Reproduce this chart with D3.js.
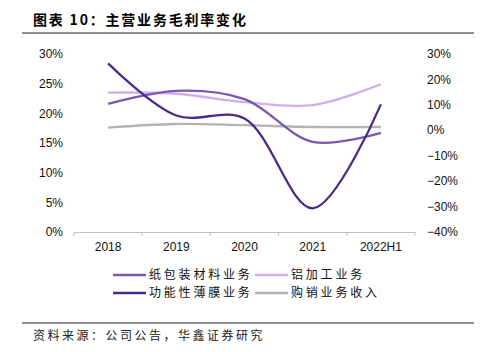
<!DOCTYPE html>
<html>
<head>
<meta charset="utf-8">
<style>
  body { margin: 0; background: #fff; }
  svg { display: block; }
  .zh { font-family: "Noto Sans CJK SC", sans-serif; }
  .num { font-family: "Liberation Sans", Arial, sans-serif; font-size: 12px; fill: #111; }
</style>
</head>
<body>
<script src="https://d3js.org/d3.v7.min.js"></script>
<script>
// categories and values (percent)
const years = ["2018", "2019", "2020", "2021", "2022H1"];
const paperPack = [21.6, 23.8, 22.4, 15.2, 16.7];   // 纸包装材料业务 (left axis)
const aluminium = [23.5, 23.3, 21.9, 21.4, 24.9];   // 铝加工业务 (left axis)
const filmBiz   = [26.3, 5.8, 4.6, -30.7, 10.2];    // 功能性薄膜业务 (right axis)
const trading   = [17.6, 18.2, 18.0, 17.7, 17.7];   // 购销业务收入 (left axis)
const leftTicks = [0, 5, 10, 15, 20, 25, 30];
const rightTicks = [-40, -30, -20, -10, 0, 10, 20, 30];

const width = 483, height = 352;
const svg = d3.select("body").append("svg")
  .attr("width", width).attr("height", height);

// title and rules
svg.append("text").attr("class", "zh")
  .attr("x", 33).attr("y", 25)
  .attr("font-size", 14).attr("font-weight", "bold")
  .attr("letter-spacing", 1.8)
  .text("图表 10：主营业务毛利率变化");
svg.append("line").attr("x1", 22).attr("x2", 474).attr("y1", 33).attr("y2", 33)
  .attr("stroke", "#222").attr("stroke-width", 1);
svg.append("line").attr("x1", 22).attr("x2", 474).attr("y1", 323).attr("y2", 323)
  .attr("stroke", "#222").attr("stroke-width", 1);
svg.append("text").attr("class", "zh")
  .attr("x", 33).attr("y", 340)
  .attr("font-size", 12).attr("letter-spacing", 2.5)
  .attr("fill", "#222")
  .text("资料来源：公司公告，华鑫证券研究");

// scales
const x = d3.scaleBand().domain(years).range([74, 415]);
const yL = d3.scaleLinear().domain([0, 30]).range([232, 54]);
const yR = d3.scaleLinear().domain([-40, 30]).range([232, 54]);
const cx = d => x(d) + x.bandwidth() / 2;

// left axis labels
svg.append("g").selectAll("text").data(leftTicks).join("text")
  .attr("class", "num")
  .attr("x", 63).attr("y", d => yL(d)).attr("dy", "0.35em")
  .attr("text-anchor", "end")
  .text(d => d + "%");

// right axis labels
svg.append("g").selectAll("text").data(rightTicks).join("text")
  .attr("class", "num")
  .attr("x", 427).attr("y", d => yR(d)).attr("dy", "0.35em")
  .text(d => (d < 0 ? "\u2212" + (-d) : d) + "%");

// x axis
const xAxis = svg.append("g").attr("transform", "translate(0,232)")
  .call(d3.axisBottom(x).tickSize(0).tickPadding(10));
xAxis.select(".domain").attr("stroke", "#bfbfbf");
xAxis.selectAll("text").attr("class", "num").attr("font-size", null).attr("font-family", null);
svg.append("g").selectAll("line")
  .data(years.map(d => x(d)).concat([x.range()[1]]))
  .join("line")
  .attr("x1", d => d).attr("x2", d => d)
  .attr("y1", 232).attr("y2", 236)
  .attr("stroke", "#bfbfbf");

// lines
const series = [
  { name: "购销业务收入", values: trading, y: yL, color: "#b4b4b4" },
  { name: "铝加工业务", values: aluminium, y: yL, color: "#d2aeea" },
  { name: "纸包装材料业务", values: paperPack, y: yL, color: "#7b59b3" },
  { name: "功能性薄膜业务", values: filmBiz, y: yR, color: "#4c2a88" }
];
series.forEach(s => {
  const line = d3.line()
    .x((d, i) => cx(years[i]))
    .y(d => s.y(d))
    .curve(d3.curveCatmullRom.alpha(0.5));
  svg.append("path").datum(s.values)
    .attr("d", line)
    .attr("fill", "none")
    .attr("stroke", s.color)
    .attr("stroke-width", 2.3);
});

// legend
const legendItems = [
  { name: "纸包装材料业务", color: "#7b59b3", x: 113, y: 275 },
  { name: "铝加工业务", color: "#d2aeea", x: 255, y: 275 },
  { name: "功能性薄膜业务", color: "#4c2a88", x: 113, y: 293 },
  { name: "购销业务收入", color: "#b4b4b4", x: 255, y: 293 }
];
const lg = svg.append("g").selectAll("g").data(legendItems).join("g")
  .attr("transform", d => `translate(${d.x},${d.y})`);
lg.append("line").attr("x1", 0).attr("x2", 33).attr("y1", 0).attr("y2", 0)
  .attr("stroke", d => d.color).attr("stroke-width", 2.3);
lg.append("text").attr("class", "zh")
  .attr("x", 36).attr("dy", "0.35em")
  .attr("font-size", 12).attr("letter-spacing", 2.8)
  .attr("fill", "#111")
  .text(d => d.name);
</script>
</body>
</html>
